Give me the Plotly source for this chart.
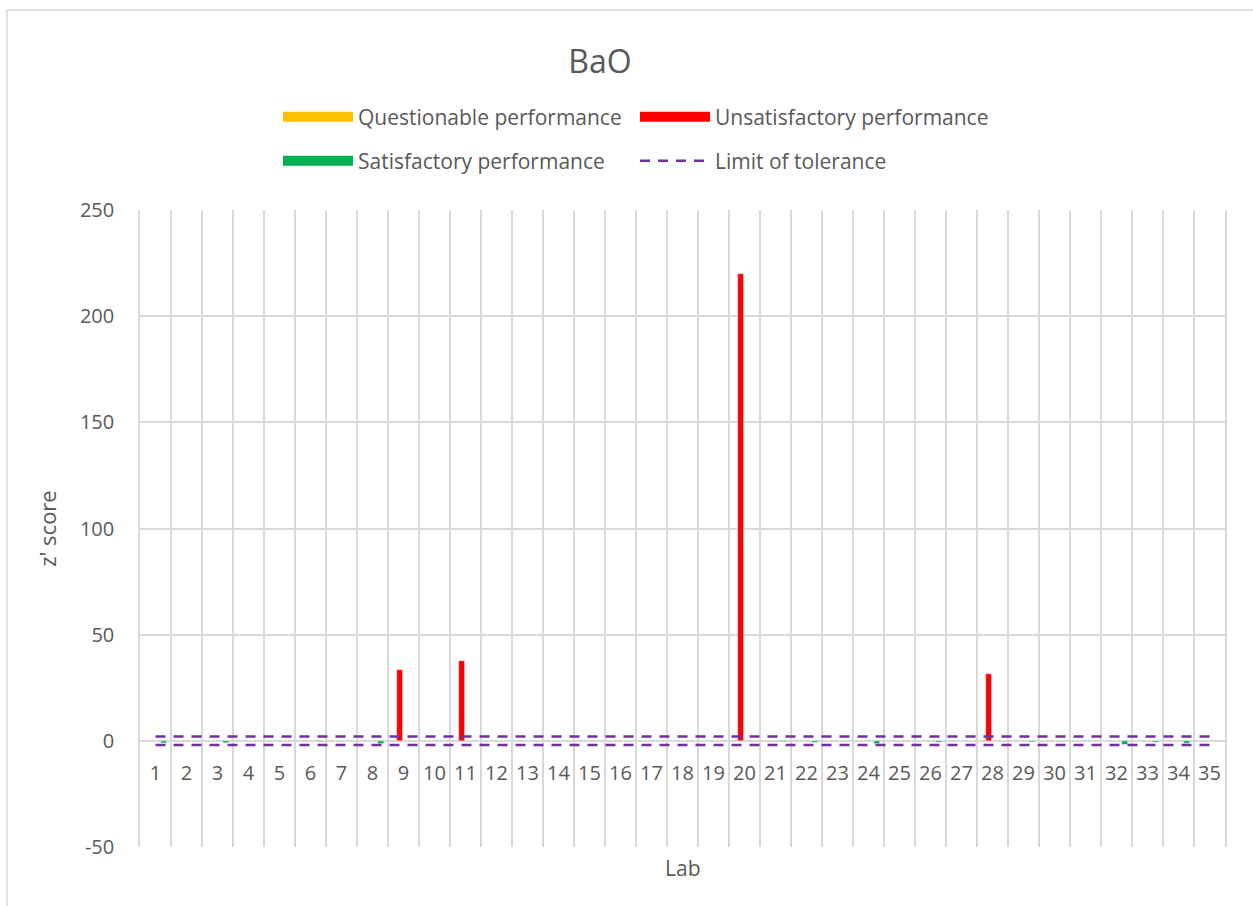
import plotly.graph_objects as go

# ---- data ----
labs = ["1", "2", "3", "4", "5", "6", "7", "8", "9", "10", "11", "12", "13", "14", "15",
        "16", "17", "18", "19", "20", "21", "22", "23", "24", "25", "26", "27", "28", "29",
        "30", "31", "32", "33", "34", "35"]

questionable = [None] * 35

unsatisfactory = [None, None, None, None, None, None, None, None, 33.5, None,
                  37.7, None, None, None, None, None, None, None, None, 220.0,
                  None, None, None, None, None, None, None, 31.6, None, None,
                  None, None, None, None, None]

satisfactory = [-1.0, None, -0.9, None, None, -0.3, None, -1.3, None, None,
                None, None, None, None, None, None, None, None, None, None,
                -0.4, -0.7, None, -1.3, None, -0.6, None, None, -0.5, None,
                None, -1.7, -0.6, -1.1, None]

limit_upper = 2
limit_lower = -2

y_tickvals = [-50, 0, 50, 100, 150, 200, 250]
y_ticktext = ["-50", "0", "50", "100", "150", "200", "250"]

title_text = "BaO"
y_title = "z' score"
x_title = "Lab"

# ---- styles ----
FONT = "Open Sans"
TXT = "#595959"
GRID = "#d9d9d9"
C_Q = "#FFC000"
C_U = "#FF0000"
C_S = "#00B050"
C_L = "#7030A0"
BW = 0.19

fig = go.Figure()

fig.add_trace(go.Bar(x=labs, y=questionable, marker_color=C_Q, width=BW, offset=-0.41,
                     showlegend=False, name="Questionable performance"))
fig.add_trace(go.Bar(x=labs, y=unsatisfactory, marker_color=C_U, width=BW, offset=-0.22,
                     showlegend=False, name="Unsatisfactory performance"))
fig.add_trace(go.Bar(x=labs, y=satisfactory, marker_color=C_S, width=BW, offset=0.17,
                     showlegend=False, name="Satisfactory performance"))

fig.add_trace(go.Scatter(x=[labs[0], labs[-1]], y=[limit_upper, limit_upper], mode="lines",
                         line=dict(color=C_L, width=2.5, dash="10px,8px"),
                         name="Limit of tolerance", legend="legend2", legendrank=2))
fig.add_trace(go.Scatter(x=[labs[0], labs[-1]], y=[limit_lower, limit_lower], mode="lines",
                         line=dict(color=C_L, width=2.5, dash="10px,8px"),
                         name="Limit of tolerance", showlegend=False))

# legend swatches (wide rectangles like the original)
for nm, col, lg, rk in [("Questionable performance", C_Q, "legend", 1),
                        ("Unsatisfactory performance", C_U, "legend", 2),
                        ("Satisfactory performance", C_S, "legend2", 1)]:
    fig.add_trace(go.Scatter(x=[None], y=[None], mode="lines", name=nm,
                             line=dict(color=col, width=15), legend=lg, legendrank=rk))

L, R, T, B = 140, 28, 210, 59
W, H = 1253, 906
pw, ph = W - L - R, H - T - B

def px_x(x):
    return (x - L) / pw

def px_y(y):
    return (H - B - y) / ph

leg_common = dict(orientation="h", entrywidth=272, entrywidthmode="pixels",
                  itemwidth=70, font=dict(family=FONT, size=21, color=TXT),
                  xanchor="left", yanchor="middle", bgcolor="rgba(0,0,0,0)",
                  traceorder="normal")

fig.update_layout(
    width=W, height=H,
    margin=dict(l=L, r=R, t=T, b=B),
    paper_bgcolor="white", plot_bgcolor="white",
    barmode="overlay",
    font=dict(family=FONT, color=TXT),
    title=dict(text=title_text, x=600 / W, xref="container", xanchor="center",
               y=1 - 62 / H, yref="container", yanchor="middle",
               font=dict(family=FONT, size=32, color=TXT)),
    legend=dict(x=px_x(278), y=px_y(117), **leg_common),
    legend2=dict(x=px_x(278), y=px_y(161), **leg_common),
    xaxis=dict(type="category", categoryorder="array", categoryarray=labs,
               range=[-0.5, 34.5], tickson="boundaries", showgrid=True,
               gridcolor=GRID, gridwidth=1.5, ticks="", showline=False, tickangle=0,
               anchor="free", position=50 / 300, ticklabelstandoff=18,
               tickfont=dict(family=FONT, size=20, color=TXT), zeroline=False),
    yaxis=dict(range=[-50, 250], tickmode="array", tickvals=y_tickvals, ticktext=y_ticktext,
               showgrid=True, gridcolor=GRID, gridwidth=1.5,
               zeroline=True, zerolinecolor=GRID, zerolinewidth=1.5, ticks="",
               ticklabelstandoff=20, showline=True, mirror=True,
               linecolor=GRID, linewidth=1.5,
               tickfont=dict(family=FONT, size=20, color=TXT),
               title=dict(text=y_title, standoff=17,
                          font=dict(family=FONT, size=22, color=TXT))),
    annotations=[dict(text=x_title, xref="paper", yref="paper", x=0.5, y=px_y(868),
                      xanchor="center", yanchor="middle", showarrow=False,
                      font=dict(family=FONT, size=21, color=TXT))],
    shapes=[dict(type="rect", xref="paper", yref="paper",
                 x0=px_x(7), x1=px_x(W + 10), y0=px_y(H + 10), y1=px_y(10),
                 line=dict(color=GRID, width=1.5), fillcolor="rgba(0,0,0,0)",
                 layer="below")],
)

fig.write_html("out.html", config={"displayModeBar": False},
               post_script="document.body.style.margin='0px';")
